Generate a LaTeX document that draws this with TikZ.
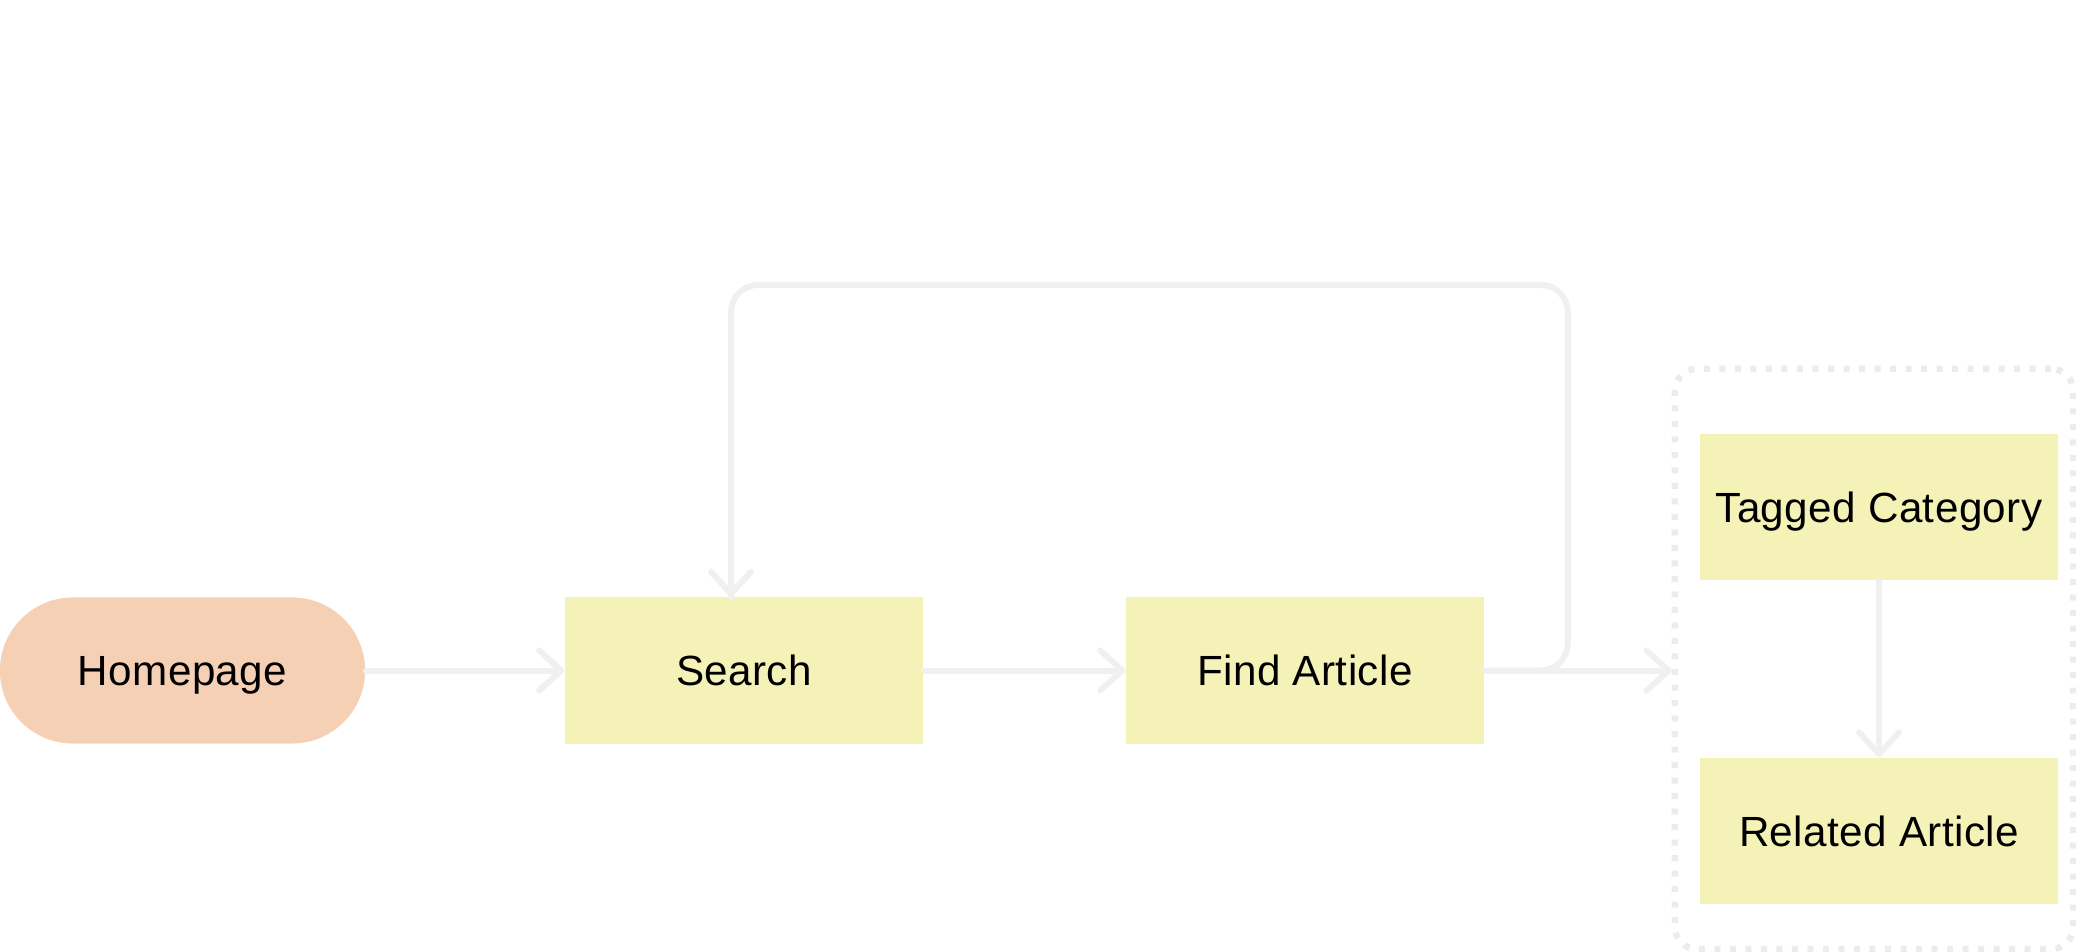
\documentclass[tikz,border=0pt]{standalone}
\usepackage{fontspec}
\setmainfont{Liberation Sans}
\usepackage{tikz}
\usetikzlibrary{arrows.meta,positioning}
\definecolor{flowpeach}{RGB}{246,208,181}
\definecolor{flowyellow}{RGB}{244,242,183}
\definecolor{flowline}{RGB}{240,240,240}
\definecolor{flowdots}{RGB}{236,236,236}

\begin{document}
\begin{tikzpicture}[x=0.01cm,y=-0.01cm,line cap=round,line join=round,
  nodetext/.style={font=\fontsize{12}{14}\selectfont\addfontfeatures{LetterSpace=1},text height=8.6pt,text depth=0pt,inner sep=0pt},
  stepbox/.style={nodetext,fill=flowyellow,minimum width=3.58cm,minimum height=1.46cm},
  pill/.style={nodetext,fill=flowpeach,minimum width=3.65cm,minimum height=1.46cm,rounded corners=0.73cm},
  groupbox/.style={draw=flowdots,line width=0.065cm,line cap=butt,dash pattern=on 0.06cm off 0.095cm,
    rounded corners=0.22cm,minimum width=3.98cm,minimum height=5.8cm,inner sep=0pt},
  link/.style={draw=flowline,line width=0.06cm},
  tip/.style={-{Straight Barb[length=0.22cm,width=0.4cm,round]}}]
 \useasboundingbox (0,0) rectangle (2076,952);
 % group round the last two steps
 \node[groupbox] (group) at (1874,659) {};
 \node[pill] (home) at (182.5,670.5) {Homepage};
 \node[stepbox] (search) at (744,670.5) {Search};
 \node[stepbox] (find) at (1305,670.5) {Find Article};
 \node[stepbox] (tagged) at (1879,507) {Tagged Category};
 \node[stepbox] (related) at (1879,831) {Related Article};
 \coordinate (looptop) at (731,285);
 % connectors
 \draw[link,tip] (home) -- (search);
 \draw[link,tip] (search) -- (find);
 \draw[link,rounded corners=0.27cm]
  (find.east) -- ++(83,0) |- (looptop) -- (looptop |- search.north);
 \draw[link,tip] (looptop |- search.north) ++(0,-2) -- (looptop |- search.north);
 \draw[link,tip] (find.east) -- (find.east -| group.west);
 \draw[link,tip] (tagged) -- (related);
\end{tikzpicture}
\end{document}
